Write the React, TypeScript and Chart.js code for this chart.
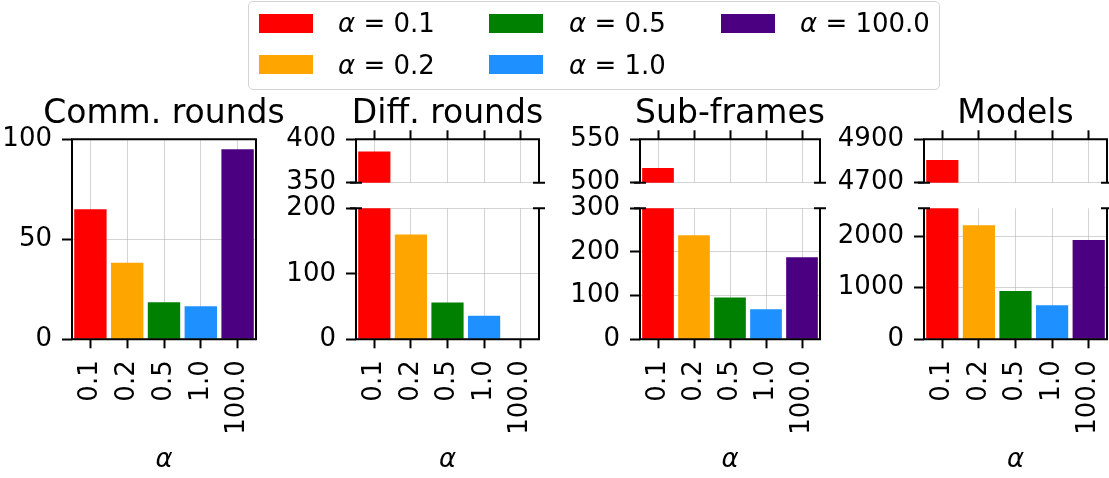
import React, { useEffect, useRef } from 'react';
import { Chart, registerables } from 'chart.js';
Chart.register(...registerables);

const categories = ['0.1', '0.2', '0.5', '1.0', '100.0'];
const barColors = ['#ff0000', '#ffa500', '#008000', '#1e90ff', '#4b0082'];
const commRounds = [65, 38.3, 18.5, 16.5, 95];
const diffRounds = [386, 160, 56, 36, 0];
const subFrames = [517, 238, 96, 69, 188];
const models = [4805, 2210, 938, 660, 1925];
const panelTitles = ['Comm. rounds', 'Diff. rounds', 'Sub-frames', 'Models'];
// y ranges [min, max] and tick labels of the lower and upper (broken) parts
const commRange = [0, 100];
const commTicks = [0, 50, 100];
const diffLow = [0, 200];
const diffLowTicks = [0, 100, 200];
const diffHigh = [350, 400];
const diffHighTicks = [350, 400];
const subLow = [0, 300];
const subLowTicks = [0, 100, 200, 300];
const subHigh = [500, 550];
const subHighTicks = [500, 550];
const modelsLow = [0, 2540];
const modelsLowTicks = [0, 1000, 2000];
const modelsHigh = [4700, 4900];
const modelsHighTicks = [4700, 4900];

const FONT = 'DejaVu Sans';
const GRID = 'rgba(176,176,176,0.55)';
const YW = 100;
const PADR = 12;
const XAXIS_H = 136.7;

type Kind = 'full' | 'top' | 'bottom';

function spinePlugin(kind: Kind) {
  return {
    id: 'spines_' + kind,
    afterDraw(chart: any) {
      const { ctx } = chart;
      const { left, right, top, bottom } = chart.chartArea;
      ctx.save();
      ctx.strokeStyle = '#000';
      ctx.lineWidth = 2;
      ctx.beginPath();
      ctx.moveTo(left, top - (kind === 'bottom' ? 0 : 1));
      ctx.lineTo(left, bottom + (kind === 'top' ? 0 : 1));
      ctx.moveTo(right, top - (kind === 'bottom' ? 0 : 1));
      ctx.lineTo(right, bottom + (kind === 'top' ? 0 : 1));
      if (kind !== 'bottom') {
        ctx.moveTo(left - 1, top);
        ctx.lineTo(right + 1, top);
      }
      if (kind !== 'top') {
        ctx.moveTo(left - 1, bottom);
        ctx.lineTo(right + 1, bottom);
      }
      if (kind === 'top') {
        ctx.moveTo(left - 6, bottom);
        ctx.lineTo(left + 6, bottom);
        ctx.moveTo(right - 6, bottom);
        ctx.lineTo(right + 6, bottom);
      }
      if (kind === 'bottom') {
        ctx.moveTo(left - 6, top);
        ctx.lineTo(left + 6, top);
        ctx.moveTo(right - 6, top);
        ctx.lineTo(right + 6, top);
      }
      ctx.stroke();
      ctx.restore();
    },
  };
}

function zeroPad(s: any) {
  s.paddingLeft = 0;
  s.paddingRight = 0;
  s.paddingTop = 0;
  s.paddingBottom = 0;
}

function makeConfig(values: number[], range: number[], yTicks: number[], kind: Kind, padTop: number, padBottom: number): any {
  const tickFont = { family: FONT, size: 26 };
  return {
    type: 'bar',
    data: {
      labels: categories,
      datasets: [
        {
          data: values,
          backgroundColor: barColors,
          borderWidth: 0,
          barPercentage: 0.88,
          categoryPercentage: 1,
        },
      ],
    },
    options: {
      responsive: false,
      maintainAspectRatio: false,
      animation: false,
      devicePixelRatio: 1,
      layout: { padding: { top: padTop, right: PADR, bottom: padBottom, left: 0 } },
      plugins: {
        legend: { display: false },
        tooltip: { enabled: false },
        title: { display: false },
      },
      scales: {
        x: {
          type: 'category',
          position: kind === 'top' ? 'top' : 'bottom',
          offset: true,
          z: 1,
          border: { display: false },
          grid: {
            display: true,
            offset: false,
            color: GRID,
            lineWidth: 1,
            drawTicks: true,
            tickLength: 9,
            tickColor: '#000',
            tickWidth: 2,
          },
          ticks: {
            display: kind !== 'top',
            autoSkip: false,
            maxRotation: 90,
            minRotation: 90,
            padding: 12,
            color: '#000',
            font: tickFont,
          },
          title:
            kind !== 'top'
              ? { display: true, text: 'α', color: '#000', font: { family: FONT, size: 26, style: 'italic' }, padding: 0 }
              : { display: false },
          afterFit: (s: any) => {
            s.height = kind === 'top' ? 9 : XAXIS_H;
            zeroPad(s);
          },
        },
        y: {
          type: 'linear',
          min: range[0],
          max: range[1],
          z: 1,
          border: { display: false },
          grid: {
            color: GRID,
            lineWidth: 1,
            drawTicks: true,
            tickLength: 10,
            tickColor: '#000',
            tickWidth: 2,
          },
          ticks: {
            padding: 10,
            color: '#000',
            font: tickFont,
            callback: (v: any) => String(v),
          },
          afterBuildTicks: (s: any) => {
            s.ticks = yTicks.map((v) => ({ value: v }));
          },
          afterFit: (s: any) => {
            s.width = YW;
            zeroPad(s);
          },
        },
      },
    },
    plugins: [spinePlugin(kind)],
  };
}

function Panel({ left, top, width, height, config }: any) {
  const ref = useRef<HTMLCanvasElement>(null);
  useEffect(() => {
    const chart = new Chart(ref.current as HTMLCanvasElement, config);
    return () => chart.destroy();
  }, []);
  return (
    <canvas
      ref={ref}
      width={width}
      height={height}
      style={{ position: 'absolute', left, top, width, height }}
    />
  );
}

// plot-area horizontal extents of the four panels
const plotX = [
  [72, 256],
  [356, 539],
  [640, 820],
  [924, 1107],
];

const TOP_Y0 = 80;
const BOT_Y0 = 180;

export default function App() {
  const panels: any[] = [];
  {
    const [L, R] = plotX[0];
    panels.push(
      <Panel
        key="p0"
        left={L - YW}
        top={TOP_Y0}
        width={YW + (R - L) + PADR}
        height={396}
        config={makeConfig(commRounds, commRange, commTicks, 'full', 59.3, 0)}
      />
    );
  }
  const broken = [
    [diffRounds, diffLow, diffLowTicks, diffHigh, diffHighTicks],
    [subFrames, subLow, subLowTicks, subHigh, subHighTicks],
    [models, modelsLow, modelsLowTicks, modelsHigh, modelsHighTicks],
  ];
  broken.forEach(([vals, low, lowT, high, highT]: any, i) => {
    const [L, R] = plotX[i + 1];
    panels.push(
      <Panel
        key={'t' + i}
        left={L - YW}
        top={TOP_Y0}
        width={YW + (R - L) + PADR}
        height={130}
        config={makeConfig(vals, high, highT, 'top', 50.3, 27.3)}
      />
    );
    panels.push(
      <Panel
        key={'b' + i}
        left={L - YW}
        top={BOT_Y0}
        width={YW + (R - L) + PADR}
        height={296}
        config={makeConfig(vals, low, lowT, 'bottom', 28.3, 0)}
      />
    );
  });

  const handleX = [259, 489, 721];
  const textX = [338, 569, 800];
  const rowY = [23, 64.5];

  return (
    <div
      style={{
        position: 'fixed',
        left: 0,
        top: 0,
        width: 1109,
        height: 478,
        overflow: 'hidden',
        background: '#fff',
        fontFamily: FONT,
      }}
    >
      {panels}
      {panelTitles.map((t, i) => {
        const c = (plotX[i][0] + plotX[i][1]) / 2;
        return (
          <div
            key={t}
            style={{
              position: 'absolute',
              left: c - 200,
              width: 400,
              top: 95.4,
              height: 33,
              lineHeight: '33px',
              fontSize: 33,
              textAlign: 'center',
              whiteSpace: 'nowrap',
              color: '#000',
              pointerEvents: 'none',
            }}
          >
            {t}
          </div>
        );
      })}
      <div
        style={{
          position: 'absolute',
          left: 248,
          top: 1,
          width: 692,
          height: 89,
          boxSizing: 'border-box',
          border: '1.5px solid #d4d4d4',
          borderRadius: 5,
          background: 'rgba(255,255,255,0.8)',
        }}
      />
      {categories.map((c, i) => {
        const col = Math.floor(i / 2);
        const row = i % 2;
        return (
          <React.Fragment key={c}>
            <div
              style={{
                position: 'absolute',
                left: handleX[col],
                top: rowY[row] - 9.5,
                width: 54,
                height: 19,
                background: barColors[i],
              }}
            />
            <div
              style={{
                position: 'absolute',
                left: textX[col],
                top: rowY[row] - 16,
                height: 32,
                lineHeight: '32px',
                fontSize: 26,
                whiteSpace: 'nowrap',
                color: '#000',
              }}
            >
              <i>α</i> = {c}
            </div>
          </React.Fragment>
        );
      })}
    </div>
  );
}
